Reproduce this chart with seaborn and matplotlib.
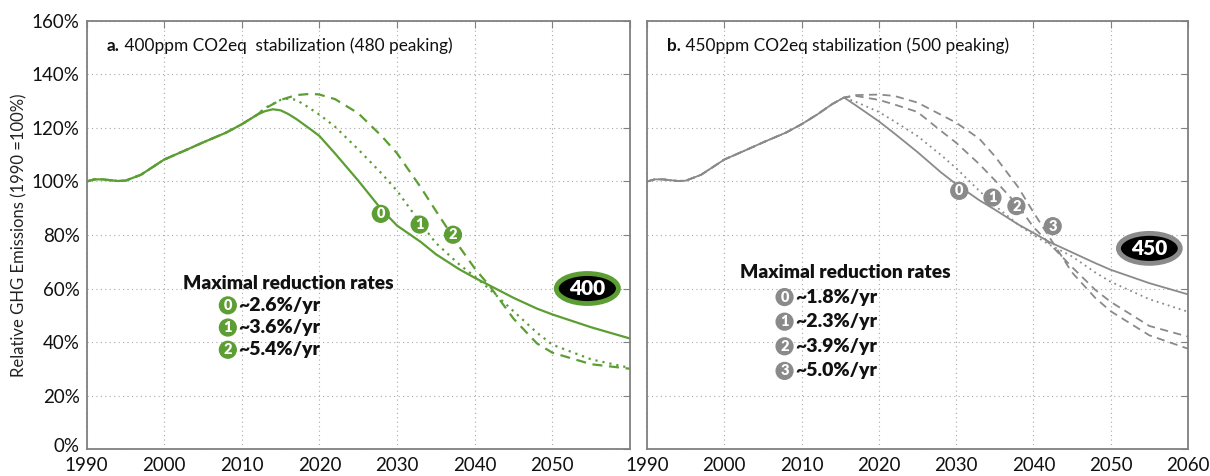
import matplotlib
matplotlib.use("Agg")
import matplotlib.pyplot as plt
import matplotlib.transforms as mtransforms
from matplotlib.patches import Ellipse
import seaborn as sns

sns.set_style("white")
plt.rcParams["font.family"] = ["Lato", "DejaVu Sans"]

GREEN = "#5c9e34"
GRAY = "#8a8a8a"

x_ticks = list(range(1990, 2061, 10))
y_ticks = list(range(0, 161, 20))

# shared history 1990-2012 (% of 1990)
hist_years = [1990, 1991, 1992, 1994, 1995, 1997, 2000, 2003, 2005, 2008, 2010, 2012]
hist_vals = [100, 100.8, 100.8, 100.2, 100.3, 102.5, 108.2, 112.0, 114.6, 118.3, 121.4, 125.0]

# panel a: 400ppm
a0_years = [2013, 2014, 2015, 2016, 2017, 2018, 2019, 2020, 2022, 2025, 2028, 2030, 2033, 2035, 2038, 2040, 2042, 2045, 2048, 2050, 2055, 2060]
a0_vals = [126.3, 127.0, 126.6, 125.2, 123.4, 121.3, 119.2, 117.0, 110.5, 100.3, 89.5, 83.5, 77.5, 72.8, 67.2, 64.0, 61.0, 56.5, 52.5, 50.3, 45.5, 41.3]
a1_years = [2013, 2015, 2016, 2017, 2018, 2020, 2022, 2025, 2028, 2030, 2033, 2035, 2038, 2040, 2042, 2045, 2048, 2050, 2055, 2060]
a1_vals = [127.5, 130.5, 131.0, 130.5, 128.8, 125.0, 120.5, 112.0, 103.0, 96.5, 84.5, 77.0, 69.0, 64.5, 59.5, 51.5, 43.5, 39.0, 33.5, 30.3]
a2_years = [2013, 2015, 2017, 2019, 2020, 2022, 2025, 2028, 2030, 2033, 2035, 2038, 2040, 2042, 2045, 2048, 2050, 2055, 2060]
a2_vals = [127.3, 130.5, 132.3, 132.8, 132.5, 130.8, 125.5, 117.0, 110.5, 98.0, 89.0, 75.7, 67.5, 60.6, 48.7, 39.5, 36.0, 31.7, 30.0]
a_rates = ["~2.6%/yr", "~3.6%/yr", "~5.4%/yr"]
a_badge_x = [2027.9, 2032.9, 2037.2]
a_badge_y = [87.9, 83.9, 80.1]

# panel b: 450ppm
b_lead_years = [2014, 2015.5]
b_lead_vals = [129.0, 131.4]
b0_years = [2017, 2020, 2022, 2025, 2028, 2030, 2033, 2035, 2038, 2040, 2042, 2045, 2048, 2050, 2055, 2060]
b0_vals = [128.5, 122.5, 118.0, 111.0, 103.5, 99.0, 93.0, 89.5, 84.0, 80.8, 77.5, 73.5, 69.5, 67.0, 62.0, 57.8]
b1_years = [2017, 2020, 2022, 2025, 2028, 2030, 2033, 2035, 2038, 2040, 2042, 2045, 2048, 2050, 2055, 2060]
b1_vals = [129.8, 126.0, 122.5, 117.0, 110.0, 105.0, 96.5, 91.0, 84.0, 80.0, 76.5, 72.0, 66.0, 62.5, 56.0, 51.3]
b2_years = [2017, 2020, 2022, 2025, 2028, 2030, 2033, 2035, 2038, 2040, 2042, 2045, 2048, 2050, 2055, 2060]
b2_vals = [132.0, 130.5, 128.8, 126.0, 119.0, 114.5, 106.5, 100.5, 91.0, 83.0, 77.0, 68.0, 59.5, 55.0, 46.0, 42.0]
b3_years = [2017, 2020, 2022, 2025, 2028, 2030, 2033, 2035, 2038, 2040, 2042, 2045, 2048, 2050, 2055, 2060]
b3_vals = [132.3, 132.5, 132.0, 129.5, 125.0, 122.0, 116.0, 109.5, 98.0, 88.5, 79.5, 66.0, 56.5, 51.5, 42.5, 37.5]
b_rates = ["~1.8%/yr", "~2.3%/yr", "~3.9%/yr", "~5.0%/yr"]
b_badge_x = [2030.4, 2034.7, 2037.8, 2042.5]
b_badge_y = [96.5, 94.0, 90.8, 83.3]

SOLID = "-"
DOTTED = (0, (1, 2.2))
DASHED = (0, (4.5, 3))


def badge(ax, x, y, num, color, size=10.5):
    ax.text(x, y, str(num), ha="center", va="center", color="white",
            fontsize=size, fontweight="heavy",
            bbox=dict(boxstyle="circle,pad=0.13", fc=color, ec=color))


def style_axes(ax, show_y):
    ax.set_xlim(1990, 2060)
    ax.set_ylim(0, 160)
    ax.set_xticks(x_ticks)
    ax.set_yticks(y_ticks)
    ax.set_yticklabels([f"{v}%" for v in y_ticks])
    ax.grid(True, linestyle=(0, (1, 3)), color="#a8a8a8", lw=0.8)
    ax.tick_params(direction="in", top=True, right=True, length=5,
                   color="#808080", labelsize=13.5, labelcolor="#111111",
                   labelleft=show_y, pad=5)
    ax.tick_params(axis="x", pad=6)
    for sp in ax.spines.values():
        sp.set_color("#808080")
        sp.set_linewidth(1.3)
    ax.set_xlabel("")
    ax.set_ylabel("")


def draw_rates(ax, x0, y0, dy, rates, color):
    ax.text(x0, y0, "Maximal reduction rates", fontsize=13.8, fontweight="heavy",
            ha="left", va="center", color="#111111")
    for i, r in enumerate(rates):
        y = y0 - dy * (i + 1)
        badge(ax, x0 + 5.8, y, i, color)
        ax.text(x0 + 7.2, y, r, fontsize=14, fontweight="heavy",
                ha="left", va="center", color="#111111")


def draw_title(ax, tag, rest):
    t = ax.text(1992.6, 150.5, tag, fontsize=12.4, fontweight="bold",
                ha="left", va="center", color="#111111")
    ax.annotate(" " + rest, xy=(1, 0), xycoords=t, fontsize=12.4,
                ha="left", va="bottom", color="#111111")


def draw_tag(ax, x, y, label, edge):
    ax.add_patch(Ellipse((x, y), 8.0, 11.2, fc="black", ec=edge, lw=3.5, zorder=5))
    ax.text(x, y, label, fontsize=15, fontweight="heavy", color="white",
            ha="center", va="center", zorder=6)


fig = plt.figure(figsize=(12.1, 4.76), dpi=100)
ax_a = fig.add_axes([0.0715, 0.0567, 0.4492, 0.8992])
ax_b = fig.add_axes([0.5347, 0.0567, 0.4471, 0.8992])

# panel a
a_series = [(a0_years, a0_vals, SOLID), (a1_years, a1_vals, DOTTED), (a2_years, a2_vals, DASHED)]
for yrs, vals, ls in a_series:
    sns.lineplot(x=hist_years + yrs, y=hist_vals + vals, ax=ax_a, color=GREEN,
                 linestyle=ls, lw=1.6)
style_axes(ax_a, True)
ax_a.set_xticklabels([str(v) if v < 2060 else "" for v in x_ticks])
ax_a.set_ylabel("Relative GHG Emissions (1990 =100%)", fontsize=12, labelpad=3,
                color="#222222")
# lift the 0% label a touch so it clears the 1990 label
zero_lbl = ax_a.get_yticklabels()[0]
zero_lbl.set_transform(zero_lbl.get_transform() +
                       mtransforms.ScaledTranslation(0, 3 / 72, fig.dpi_scale_trans))
for i, (bx, by) in enumerate(zip(a_badge_x, a_badge_y)):
    badge(ax_a, bx, by, i, GREEN)
draw_rates(ax_a, 2002.4, 62.0, 8.3, a_rates, GREEN)
draw_title(ax_a, "a.", "400ppm CO2eq  stabilization (480 peaking)")
draw_tag(ax_a, 2054.5, 60, "400", GREEN)

# panel b
b_series = [(b0_years, b0_vals, SOLID), (b1_years, b1_vals, DOTTED),
            (b2_years, b2_vals, DASHED), (b3_years, b3_vals, DASHED)]
for yrs, vals, ls in b_series:
    sns.lineplot(x=hist_years + b_lead_years + yrs, y=hist_vals + b_lead_vals + vals,
                 ax=ax_b, color=GRAY, linestyle=ls, lw=1.3)
style_axes(ax_b, False)
for i, (bx, by) in enumerate(zip(b_badge_x, b_badge_y)):
    badge(ax_b, bx, by, i, GRAY)
draw_rates(ax_b, 2002.0, 66.0, 9.2, b_rates, GRAY)
draw_title(ax_b, "b.", "450ppm CO2eq stabilization (500 peaking)")
draw_tag(ax_b, 2055.0, 75, "450", GRAY)

fig.savefig("out.png", dpi=100)
